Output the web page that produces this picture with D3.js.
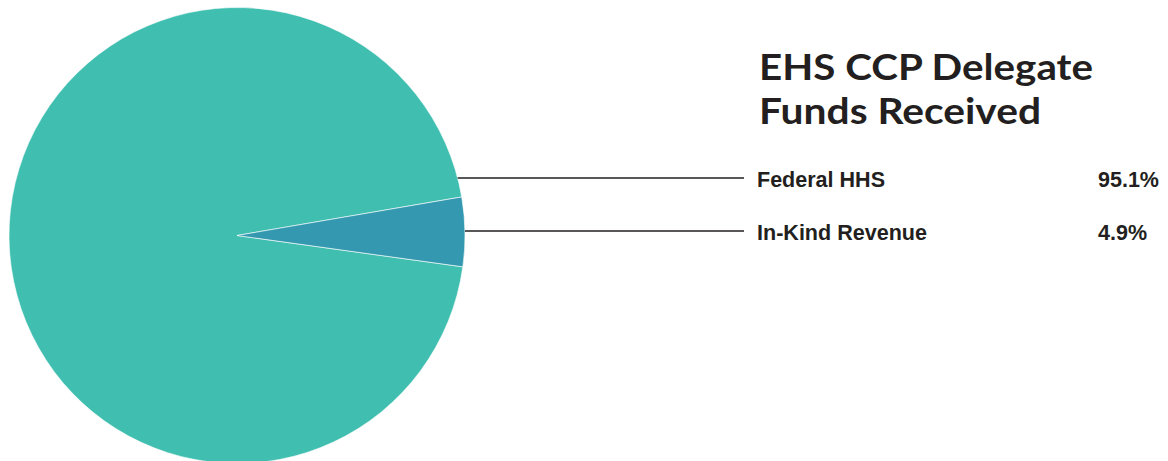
<!DOCTYPE html>
<html>
<head>
<meta charset="utf-8">
<script src="https://cdn.jsdelivr.net/npm/d3@7"></script>
<style>
  html, body { margin: 0; padding: 0; background: #ffffff; }
  svg { display: block; }
</style>
</head>
<body>
<svg id="chart" width="1168" height="461"></svg>
<script>
// ---- data ----
const categories = ["Federal HHS", "In-Kind Revenue"];
const values = [95.1, 4.9];
const valueLabels = ["95.1%", "4.9%"];
const titleLines = ["EHS CCP Delegate", "Funds Received"];
const colors = ["#40bfb0", "#3499b0"];

// ---- layout ----
const svg = d3.select("#chart");
const cx = 237, cy = 235.5, r = 228;
const deg = Math.PI / 180;

const pie = d3.pie().sort(null).value(d => d)
  .startAngle(97.9 * deg).endAngle(97.9 * deg + 2 * Math.PI);
const arcs = pie(values);
const arc = d3.arc().innerRadius(0).outerRadius(r);

const g = svg.append("g").attr("transform", `translate(${cx},${cy})`);
g.selectAll("path").data(arcs).enter().append("path")
  .attr("d", arc)
  .attr("fill", (d, i) => colors[i])
  .attr("stroke", "#ffffff")
  .attr("stroke-width", 0.6);

// title (one text element, two lines)
const titleWidths = [334, 282];
const title = svg.append("text")
  .attr("font-family", "Lato, 'Open Sans', sans-serif")
  .attr("font-weight", 700)
  .attr("font-size", 37)
  .attr("fill", "#231f20");
titleLines.forEach((t, i) => {
  title.append("tspan")
    .attr("x", 759).attr("y", 79.5 + i * 44.7)
    .attr("textLength", titleWidths[i])
    .attr("lengthAdjust", "spacingAndGlyphs")
    .text(t);
});

// legend rows with leader lines
const rowY = d3.scalePoint().domain(categories).range([178, 231]);
const labelWidths = [128, 170];
const valueWidths = [61, 49];
categories.forEach((c, i) => {
  const y = rowY(c);
  const dy = y - cy;
  const x0 = cx + Math.sqrt(r * r - dy * dy);
  svg.append("line")
    .attr("x1", x0).attr("x2", 744)
    .attr("y1", y).attr("y2", y)
    .attr("stroke", "#231f20").attr("stroke-width", 1.3);
  svg.append("text")
    .attr("x", 757).attr("y", y + 9.3)
    .attr("font-family", "'Liberation Sans', Arial, sans-serif")
    .attr("font-weight", 700).attr("font-size", 22.5)
    .attr("fill", "#231f20")
    .attr("textLength", labelWidths[i])
    .attr("lengthAdjust", "spacingAndGlyphs")
    .text(c);
  svg.append("text")
    .attr("x", 1098).attr("y", y + 9.3)
    .attr("font-family", "'Liberation Sans', Arial, sans-serif")
    .attr("font-weight", 700).attr("font-size", 22.5)
    .attr("fill", "#231f20")
    .attr("textLength", valueWidths[i])
    .attr("lengthAdjust", "spacingAndGlyphs")
    .text(valueLabels[i]);
});
</script>
</body>
</html>
